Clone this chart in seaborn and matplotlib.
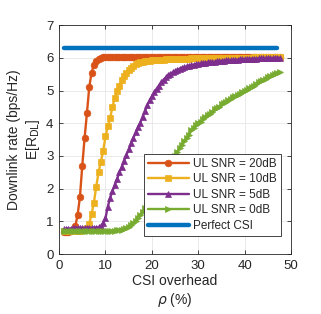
import pandas as pd
import matplotlib
matplotlib.use('Agg')
from matplotlib import pyplot as plt
import seaborn as sns

# CSI overhead rho (%)
overhead = [
    1.0, 1.5, 2.0, 2.5, 3.0, 3.5, 4.0, 4.5, 5.0, 5.5,
    6.0, 6.5, 7.0, 7.5, 8.0, 8.5, 9.0, 9.5, 10.0, 10.5,
    11.0, 11.5, 12.0, 12.5, 13.0, 13.5, 14.0, 14.5, 15.0, 15.5,
    16.0, 16.5, 17.0, 17.5, 18.0, 18.5, 19.0, 19.5, 20.0, 20.5,
    21.0, 21.5, 22.0, 22.5, 23.0, 23.5, 24.0, 24.5, 25.0, 25.5,
    26.0, 26.5, 27.0, 27.5, 28.0, 28.5, 29.0, 29.5, 30.0, 30.5,
    31.0, 31.5, 32.0, 32.5, 33.0, 33.5, 34.0, 34.5, 35.0, 35.5,
    36.0, 36.5, 37.0, 37.5, 38.0, 38.5, 39.0, 39.5, 40.0, 40.5,
    41.0, 41.5, 42.0, 42.5, 43.0, 43.5, 44.0, 44.5, 45.0, 45.5,
    46.0, 46.5, 47.0, 47.5,
]

rate_20db = [
    0.68, 0.68, 0.68, 0.69, 0.72, 0.85, 1.20, 1.75, 2.70, 3.55,
    4.30, 5.10, 5.55, 5.78, 5.90, 5.96, 5.99, 6.01, 6.02, 6.02,
    6.03, 6.03, 6.03, 6.03, 6.03, 6.03, 6.03, 6.03, 6.03, 6.03,
    6.03, 6.03, 6.03, 6.03, 6.03, 6.03, 6.03, 6.03, 6.03, 6.03,
    6.03, 6.03, 6.03, 6.03, 6.03, 6.03, 6.03, 6.03, 6.03, 6.03,
    6.03, 6.03, 6.03, 6.03, 6.03, 6.03, 6.03, 6.03, 6.03, 6.03,
    6.03, 6.03, 6.03, 6.03, 6.03, 6.03, 6.03, 6.03, 6.03, 6.03,
    6.03, 6.03, 6.03, 6.03, 6.03, 6.03, 6.03, 6.03, 6.03, 6.03,
    6.03, 6.03, 6.03, 6.03, 6.03, 6.03, 6.03, 6.03, 6.03, 6.03,
    6.03, 6.03, 6.03, 6.03,
]

rate_10db = [
    0.69, 0.69, 0.69, 0.69, 0.69, 0.70, 0.70, 0.71, 0.73, 0.76,
    0.80, 0.92, 1.22, 1.57, 2.05, 2.50, 2.82, 3.15, 3.60, 3.90,
    4.15, 4.50, 4.78, 4.98, 5.15, 5.32, 5.45, 5.55, 5.63, 5.70,
    5.76, 5.80, 5.84, 5.86, 5.88, 5.89, 5.90, 5.91, 5.92, 5.92,
    5.93, 5.93, 5.94, 5.94, 5.95, 5.95, 5.95, 5.96, 5.96, 5.96,
    5.97, 5.97, 5.97, 5.97, 5.97, 5.98, 5.98, 5.98, 5.98, 5.98,
    5.98, 5.99, 5.99, 5.99, 5.99, 5.99, 5.99, 5.99, 6.00, 6.00,
    6.00, 6.00, 6.00, 6.00, 6.00, 6.00, 6.00, 6.00, 6.00, 6.00,
    6.00, 6.00, 6.01, 6.01, 6.01, 6.01, 6.01, 6.01, 6.01, 6.01,
    6.01, 6.01, 6.01, 6.01,
]

rate_5db = [
    0.76, 0.77, 0.78, 0.78, 0.79, 0.79, 0.80, 0.80, 0.80, 0.80,
    0.80, 0.80, 0.80, 0.80, 0.81, 0.82, 0.85, 0.95, 1.10, 1.45,
    1.72, 1.92, 2.12, 2.30, 2.50, 2.67, 2.86, 3.03, 3.20, 3.38,
    3.55, 3.72, 3.88, 4.02, 4.20, 4.38, 4.55, 4.70, 4.82, 4.95,
    5.05, 5.15, 5.25, 5.33, 5.40, 5.47, 5.52, 5.56, 5.60, 5.64,
    5.67, 5.70, 5.72, 5.74, 5.76, 5.78, 5.79, 5.81, 5.82, 5.83,
    5.84, 5.85, 5.86, 5.87, 5.88, 5.88, 5.89, 5.90, 5.91, 5.91,
    5.92, 5.92, 5.93, 5.93, 5.94, 5.94, 5.95, 5.95, 5.96, 5.96,
    5.97, 5.97, 5.97, 5.97, 5.98, 5.98, 5.98, 5.98, 5.99, 5.99,
    5.99, 5.99, 6.00, 6.00,
]

rate_0db = [
    0.70, 0.70, 0.70, 0.70, 0.70, 0.70, 0.70, 0.70, 0.70, 0.70,
    0.70, 0.70, 0.70, 0.70, 0.70, 0.70, 0.70, 0.70, 0.70, 0.70,
    0.70, 0.71, 0.71, 0.72, 0.73, 0.75, 0.77, 0.80, 0.84, 0.89,
    0.95, 1.02, 1.10, 1.20, 1.30, 1.40, 1.50, 1.62, 1.75, 1.88,
    2.00, 2.12, 2.25, 2.38, 2.50, 2.62, 2.75, 2.88, 3.00, 3.12,
    3.25, 3.33, 3.45, 3.55, 3.65, 3.78, 3.85, 3.95, 4.02, 4.05,
    4.12, 4.20, 4.25, 4.28, 4.35, 4.42, 4.48, 4.50, 4.58, 4.62,
    4.65, 4.70, 4.75, 4.80, 4.82, 4.86, 4.90, 4.96, 5.00, 5.02,
    5.08, 5.12, 5.15, 5.20, 5.25, 5.28, 5.32, 5.36, 5.40, 5.43,
    5.47, 5.50, 5.55, 5.57,
]

perfect_x = [1.0, 47.0]
perfect_rate = [6.3, 6.3]

series = [
    ('UL SNR = 20dB', rate_20db, '#D95319', 'o'),
    ('UL SNR = 10dB', rate_10db, '#EDB120', 's'),
    ('UL SNR = 5dB', rate_5db, '#7E2F8E', '^'),
    ('UL SNR = 0dB', rate_0db, '#77AC30', '>'),
]

sns.set_style('ticks')
plt.rcParams['font.family'] = ['Liberation Sans', 'DejaVu Sans']
plt.rcParams['mathtext.fontset'] = 'dejavusans'

fig = plt.figure(figsize=(3.21, 3.14), dpi=100)
ax = fig.add_axes([0.184, 0.191, 0.723, 0.729])

for label, rate, color, marker in series:
    df = pd.DataFrame({'overhead': overhead, 'rate': rate})
    sns.lineplot(data=df, x='overhead', y='rate', ax=ax, color=color,
                 marker=marker, markersize=4.8, markeredgecolor=color,
                 markeredgewidth=0.5, linewidth=1.7, label=label)

df_perfect = pd.DataFrame({'overhead': perfect_x, 'rate': perfect_rate})
sns.lineplot(data=df_perfect, x='overhead', y='rate', ax=ax, color='#0072BD',
             linewidth=3.2, label='Perfect CSI')

ax.set_xlim(0, 50)
ax.set_ylim(0, 7)
ax.set_xticks([0, 10, 20, 30, 40, 50])
ax.set_yticks([0, 1, 2, 3, 4, 5, 6, 7])
ax.grid(True, color='#e6e6e6', linewidth=0.6)
ax.set_axisbelow(True)
for side in ['top', 'right', 'left', 'bottom']:
    ax.spines[side].set_visible(True)
    ax.spines[side].set_color('#262626')
    ax.spines[side].set_linewidth(0.6)
ax.tick_params(direction='in', length=3, width=0.6, colors='#262626',
               labelsize=9.5, top=True, right=True, pad=4)

ax.set_xlabel('CSI overhead\n' + r'$\rho$ (%)', fontsize=10, color='#262626',
              labelpad=2)
ax.set_ylabel('Downlink rate (bps/Hz)\n' + r'E[R$_{\mathrm{DL}}$]', fontsize=10,
              color='#262626', labelpad=3)

leg = ax.legend(loc='lower right', bbox_to_anchor=(0.957, 0.079), borderaxespad=0,
                fontsize=8.5, handlelength=3.4, frameon=True, fancybox=False,
                framealpha=1, edgecolor='#262626', borderpad=0.35,
                labelspacing=0.3, handletextpad=0.4)
leg.get_frame().set_linewidth(0.6)

plt.savefig('out.png', dpi=100)
plt.close()
